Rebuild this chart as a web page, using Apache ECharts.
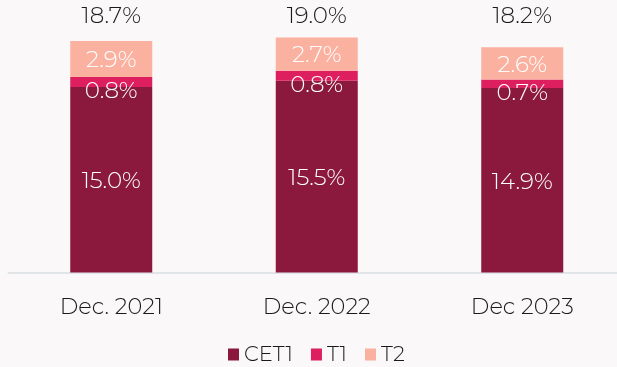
<!DOCTYPE html>
<html>
<head>
<meta charset="utf-8">
<script src="https://cdn.jsdelivr.net/npm/echarts@6/dist/echarts.min.js"></script>
<style>
  html, body { margin: 0; padding: 0; background: #faf8f8; }
  #chart { width: 617px; height: 367px; }
</style>
</head>
<body>
<div id="chart"></div>
<script>
// Capital ratio composition by period
const categories = ['Dec. 2021', 'Dec. 2022', 'Dec 2023'];
const cet1 = [15.0, 15.5, 14.9];
const t1 = [0.8, 0.8, 0.7];
const t2 = [2.9, 2.7, 2.6];

const totals = categories.map((_, i) => (cet1[i] + t1[i] + t2[i]).toFixed(1) + '%');

const FONT = "Montserrat, 'Open Sans', sans-serif";
const WEIGHT = 300;
const pct = p => p.value.toFixed(1) + '%';

const chart = echarts.init(document.getElementById('chart'), null, { renderer: 'canvas' });

chart.setOption({
  backgroundColor: '#faf8f8',
  animation: false,
  textStyle: { fontFamily: FONT, fontWeight: WEIGHT },
  grid: { left: 8.5, right: -8, top: 25, bottom: 94.5, containLabel: false, outerBoundsMode: 'none' },
  legend: {
    left: 228, top: 344, padding: 0,
    icon: 'rect', itemWidth: 11, itemHeight: 12, itemGap: 18, itemTextGap: 8,
    textStyle: { fontFamily: FONT, fontWeight: WEIGHT, fontSize: 21, color: '#1a1a1a' },
    data: ['CET1', 'T1', 'T2']
  },
  xAxis: [
    {
      type: 'category', data: categories, position: 'bottom',
      axisLine: { lineStyle: { color: '#e1e5e8', width: 2 } },
      axisTick: { show: false },
      axisLabel: { fontFamily: FONT, fontWeight: WEIGHT, fontSize: 22.5, color: '#1a1a1a', margin: 23, lineHeight: 23 }
    },
    {
      type: 'category', data: totals, position: 'top',
      axisLine: { show: false }, axisTick: { show: false },
      axisLabel: { fontFamily: FONT, fontWeight: WEIGHT, fontSize: 23, color: '#1a1a1a', margin: 9, verticalAlign: 'middle' }
    }
  ],
  yAxis: { type: 'value', min: 0, max: 20, show: false, splitLine: { show: false } },
  series: [
    {
      name: 'CET1', type: 'bar', stack: 'cap', barWidth: 82, data: cet1,
      itemStyle: { color: '#8b193d' },
      label: { show: true, position: 'inside', offset: [0, 1.5], color: '#ffffff', fontSize: 23, fontWeight: WEIGHT, fontFamily: FONT, formatter: pct }
    },
    {
      name: 'T1', type: 'bar', stack: 'cap', barWidth: 82, data: t1,
      itemStyle: { color: '#dd1f5f' },
      label: { show: true, position: 'inside', offset: [0, 9], color: '#ffffff', fontSize: 23, fontWeight: WEIGHT, fontFamily: FONT, formatter: pct }
    },
    {
      name: 'T2', type: 'bar', stack: 'cap', barWidth: 82, data: t2,
      itemStyle: { color: '#fbb1a0' },
      label: { show: true, position: 'inside', offset: [0, 1.5], color: '#ffffff', fontSize: 23, fontWeight: WEIGHT, fontFamily: FONT, formatter: pct }
    }
  ]
});
</script>
</body>
</html>
